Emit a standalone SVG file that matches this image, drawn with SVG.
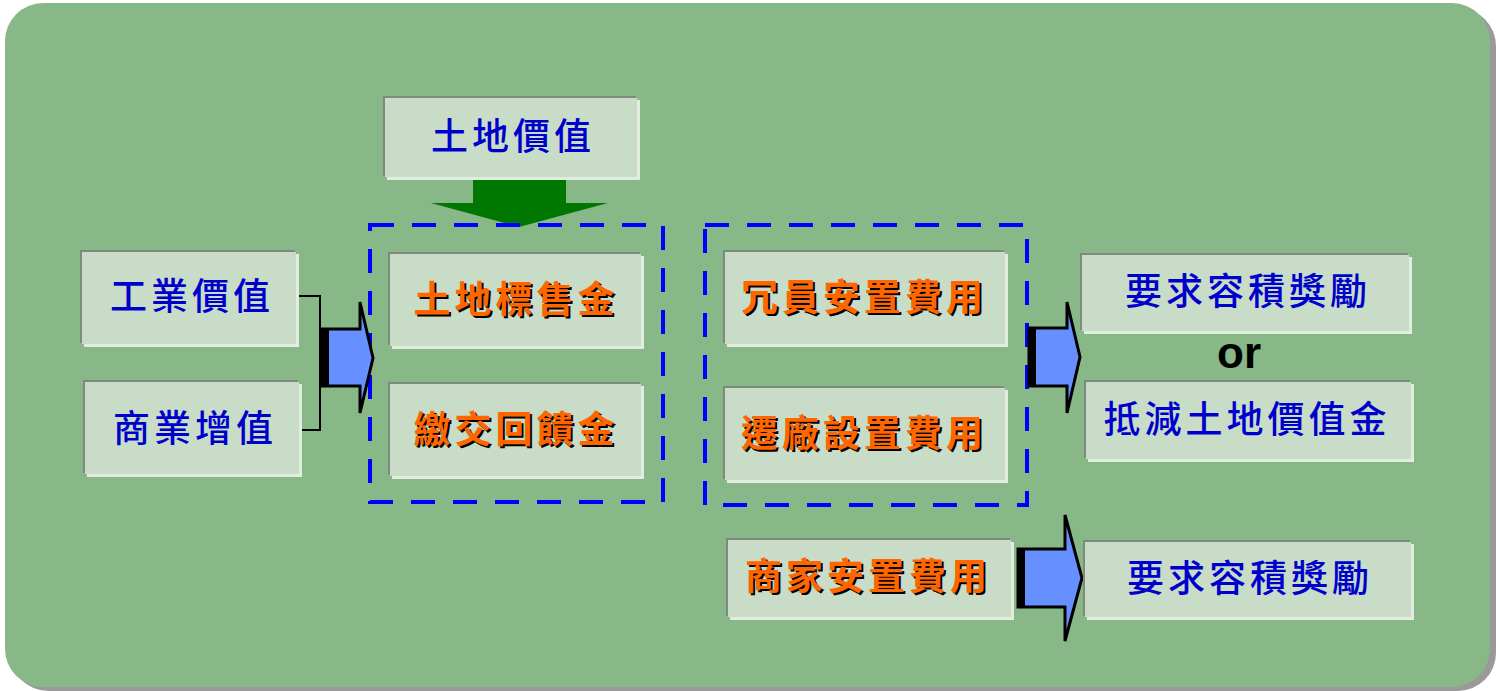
<svg xmlns="http://www.w3.org/2000/svg" width="1496" height="691" viewBox="0 0 1496 691">
<style>
.sh{fill:#e2ede0}
.bd{fill:#7e8a7e}
.bx{fill:#c8dcc8}
.tb{font-family:"Noto Sans CJK TC","Noto Sans CJK SC",sans-serif;font-size:37px;fill:#0000cc;font-weight:500;text-anchor:middle;letter-spacing:4px}
.to{font-family:"Noto Sans CJK TC","Noto Sans CJK SC",sans-serif;font-size:37px;fill:#ff6600;font-weight:bold;text-anchor:middle;letter-spacing:4px}
.ts{font-family:"Noto Sans CJK TC","Noto Sans CJK SC",sans-serif;font-size:37px;fill:#000;font-weight:bold;text-anchor:middle;letter-spacing:4px}
.dash{fill:none;stroke:#0000ff;stroke-width:4;stroke-dasharray:24 18}
.ar{fill:#6690ff;stroke:#000;stroke-width:3;stroke-linejoin:miter}
</style>
<rect x="10" y="8" width="1486" height="683" rx="38" fill="#9a9a9a"/>
<rect x="5" y="3" width="1485" height="684" rx="38" fill="#88b888"/>

<g id="connectors">
  <polyline points="296,296 320,296 320,430 299,430" fill="none" stroke="#000" stroke-width="2"/>
  <polygon points="473,177 566,177 566,203 608,203 519,227 431,203 473,203" fill="#007700"/>
  <rect class="dash" x="370" y="225" width="293" height="277"/>
  <rect class="dash" x="705" y="225" width="322" height="280"/>
  <g id="arrow1">
    <polygon class="ar" points="322,329 360,329 360,302 373,358 360,413 360,386 322,386"/>
    <rect x="321" y="328" width="8" height="59" fill="#000"/>
  </g>
  <g id="arrow2">
    <polygon class="ar" points="1029,328 1067,328 1067,302 1080,357 1067,413 1067,386 1029,386"/>
    <rect x="1028" y="327" width="8" height="60" fill="#000"/>
  </g>
  <g id="arrow3">
    <polygon class="ar" points="1018,549 1065,549 1065,515 1082,578 1065,641 1065,607 1018,607"/>
    <rect x="1017" y="548" width="8" height="60" fill="#000"/>
  </g>
</g>

<g id="n-land-value">
  <rect class="sh" x="387" y="100" width="253" height="80"/>
  <rect class="bd" x="383" y="96" width="253" height="80"/>
  <rect class="bx" x="385" y="98" width="252" height="79"/>
  <text class="tb" x="513" y="150">土地價值</text>
</g>
<g id="n-industrial">
  <rect class="sh" x="84" y="254" width="215" height="93"/>
  <rect class="bd" x="80" y="250" width="215" height="93"/>
  <rect class="bx" x="82" y="252" width="214" height="92"/>
  <text class="tb" x="192" y="310">工業價值</text>
</g>
<g id="n-commercial">
  <rect class="sh" x="87" y="384" width="215" height="93"/>
  <rect class="bd" x="83" y="380" width="215" height="93"/>
  <rect class="bx" x="85" y="382" width="214" height="92"/>
  <text class="tb" x="195" y="442">商業增值</text>
</g>
<g id="n-tender">
  <rect class="sh" x="392" y="256" width="252" height="93"/>
  <rect class="bd" x="388" y="252" width="252" height="93"/>
  <rect class="bx" x="390" y="254" width="251" height="92"/>
  <text class="ts" x="518" y="315">土地標售金</text>
  <text class="to" x="516" y="313">土地標售金</text>
</g>
<g id="n-feedback">
  <rect class="sh" x="392" y="386" width="252" height="93"/>
  <rect class="bd" x="388" y="382" width="252" height="93"/>
  <rect class="bx" x="390" y="384" width="251" height="92"/>
  <text class="ts" x="518" y="445">繳交回饋金</text>
  <text class="to" x="516" y="443">繳交回饋金</text>
</g>
<g id="n-staff">
  <rect class="sh" x="727" y="254" width="281" height="93"/>
  <rect class="bd" x="723" y="250" width="281" height="93"/>
  <rect class="bx" x="725" y="252" width="280" height="92"/>
  <text class="ts" x="866" y="313">冗員安置費用</text>
  <text class="to" x="864" y="311">冗員安置費用</text>
</g>
<g id="n-relocation">
  <rect class="sh" x="727" y="390" width="281" height="93"/>
  <rect class="bd" x="723" y="386" width="281" height="93"/>
  <rect class="bx" x="725" y="388" width="280" height="92"/>
  <text class="ts" x="866" y="449">遷廠設置費用</text>
  <text class="to" x="864" y="447">遷廠設置費用</text>
</g>
<g id="n-bonus1">
  <rect class="sh" x="1084" y="257" width="328" height="77"/>
  <rect class="bd" x="1080" y="253" width="328" height="77"/>
  <rect class="bx" x="1082" y="255" width="327" height="76"/>
  <text class="tb" x="1248" y="305">要求容積獎勵</text>
</g>
<text x="1239" y="368" font-family="Liberation Sans, Arial, sans-serif" font-size="44" font-weight="bold" fill="#000" text-anchor="middle">or</text>
<g id="n-offset">
  <rect class="sh" x="1088" y="384" width="326" height="78"/>
  <rect class="bd" x="1084" y="380" width="326" height="78"/>
  <rect class="bx" x="1086" y="382" width="325" height="77"/>
  <text class="tb" x="1247" y="433">抵減土地價值金</text>
</g>
<g id="n-merchant">
  <rect class="sh" x="730" y="542" width="284" height="78"/>
  <rect class="bd" x="726" y="538" width="284" height="78"/>
  <rect class="bx" x="728" y="540" width="283" height="77"/>
  <text class="ts" x="870" y="592">商家安置費用</text>
  <text class="to" x="868" y="590">商家安置費用</text>
</g>
<g id="n-bonus2">
  <rect class="sh" x="1087" y="544" width="327" height="76"/>
  <rect class="bd" x="1083" y="540" width="327" height="76"/>
  <rect class="bx" x="1085" y="542" width="326" height="75"/>
  <text class="tb" x="1250" y="592">要求容積獎勵</text>
</g>
</svg>
